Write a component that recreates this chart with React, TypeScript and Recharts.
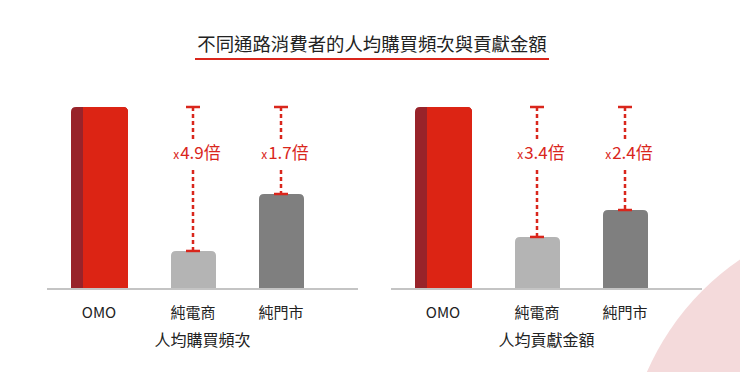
import React from "react";
import { BarChart, Bar, XAxis, YAxis, ReferenceLine, Label } from "recharts";

const categories = ["OMO", "純電商", "純門市"];
// bar heights, OMO = 100
const freqValues = [100, 20.9, 52.2];
const amountValues = [100, 28.6, 43.4];
const freqMultipliers = ["4.9", "1.7"];
const amountMultipliers = ["3.4", "2.4"];

const TITLE = "不同通路消費者的人均購買頻次與貢獻金額";
const FREQ_TITLE = "人均購買頻次";
const AMOUNT_TITLE = "人均貢獻金額";

const RED = "#dc2414";
const RED_DARK = "#98232a";
const ACCENT = "#d9261c";
const BAR_COLORS = [RED, "#b4b4b4", "#7f7f7f"];
const FONT = '"Noto Sans CJK TC", "Noto Sans", sans-serif';

const topRounded = (x: number, y: number, w: number, h: number, r: number) =>
  `M${x},${y + h} L${x},${y + r} Q${x},${y} ${x + r},${y} L${x + w - r},${y} Q${x + w},${y} ${x + w},${y + r} L${x + w},${y + h} Z`;

const BarShape = (props: any) => {
  const { x, y, width, height, index } = props;
  if (!height || height <= 0) return null;
  if (index === 0) {
    // OMO bar with darker side strip on the left
    const side = 12;
    return (
      <g>
        <path d={topRounded(x - side, y, width + side, height, 5)} fill={RED_DARK} />
        <path
          d={`M${x},${y + height} L${x},${y} L${x + width - 5},${y} Q${x + width},${y} ${x + width},${y + 5} L${x + width},${y + height} Z`}
          fill={RED}
        />
      </g>
    );
  }
  return <path d={topRounded(x, y, width, height, 5)} fill={BAR_COLORS[index]} />;
};

const GapMarker = (label: string) => (props: any) => {
  const { x1, y1, y2 } = props;
  const top = Math.min(y1, y2);
  const bottom = Math.max(y1, y2);
  const baseY = top + 52;
  return (
    <g>
      <line x1={x1} y1={top} x2={x1} y2={bottom} stroke={ACCENT} strokeWidth={2.5} strokeDasharray="4 3" />
      <line x1={x1 - 7} y1={top} x2={x1 + 7} y2={top} stroke={ACCENT} strokeWidth={2.5} />
      <line x1={x1 - 7} y1={bottom} x2={x1 + 7} y2={bottom} stroke={ACCENT} strokeWidth={2.5} />
      <rect x={x1 - 27} y={baseY - 18} width={58} height={27} fill="#fff" />
      <text x={x1 + 4} y={baseY} textAnchor="middle" fill={ACCENT} fontFamily={FONT}>
        <tspan fontSize={12}>x</tspan>
        <tspan fontSize={17} dx={1}>{label}倍</tspan>
      </text>
    </g>
  );
};

const CategoryTick = (p: any) => (
  <text
    x={p.x + (p.payload.value === "OMO" ? -6 : 0)}
    y={p.y + 22}
    textAnchor="middle"
    dominantBaseline="central"
    fontSize={15}
    fill="#222"
    fontFamily={FONT}
  >
    {p.payload.value}
  </text>
);

function Panel({ values, multipliers, title }: { values: number[]; multipliers: string[]; title: string }) {
  const data = categories.map((name, i) => ({ name, value: values[i] }));
  return (
    <BarChart width={311} height={372} data={data} margin={{ top: 107, right: 0, bottom: 23, left: 0 }}>
      <XAxis
        dataKey="name"
        type="category"
        height={60}
        padding={{ left: 14, right: 33 }}
        axisLine={{ stroke: "#c4c4c4", strokeWidth: 2 }}
        tickLine={false}
        tickSize={0}
        tickMargin={0}
        tick={<CategoryTick />}
        interval={0}
      >
        <Label value={title} position="insideBottom" offset={3} fontSize={16} fill="#222" fontFamily={FONT} />
      </XAxis>
      <YAxis hide domain={[0, 100]} />
      <Bar dataKey="value" barSize={45} shape={<BarShape />} isAnimationActive={false} />
      {multipliers.map((m, i) => (
        <ReferenceLine
          key={m + i}
          segment={[
            { x: categories[i + 1], y: values[0] },
            { x: categories[i + 1], y: values[i + 1] },
          ]}
          shape={GapMarker(m)}
        />
      ))}
    </BarChart>
  );
}

export default function App() {
  return (
    <div
      style={{
        position: "absolute",
        left: 0,
        top: 0,
        width: 740,
        height: 372,
        overflow: "hidden",
        background: "#fff",
        fontFamily: FONT,
      }}
    >
      <svg width={740} height={372} style={{ position: "absolute", left: 0, top: 0 }}>
        <circle cx={888} cy={477} r={263} fill="#f4dadb" />
      </svg>
      <div
        style={{
          position: "absolute",
          left: 195,
          top: 30,
          width: 354,
          textAlign: "center",
          fontSize: 18.4,
          color: "#222",
          lineHeight: "26px",
          borderBottom: `2px solid ${ACCENT}`,
          paddingBottom: 2,
        }}
      >
        {TITLE}
      </div>
      <div style={{ position: "absolute", left: 47, top: 0 }}>
        <Panel values={freqValues} multipliers={freqMultipliers} title={FREQ_TITLE} />
      </div>
      <div style={{ position: "absolute", left: 391, top: 0 }}>
        <Panel values={amountValues} multipliers={amountMultipliers} title={AMOUNT_TITLE} />
      </div>
    </div>
  );
}
